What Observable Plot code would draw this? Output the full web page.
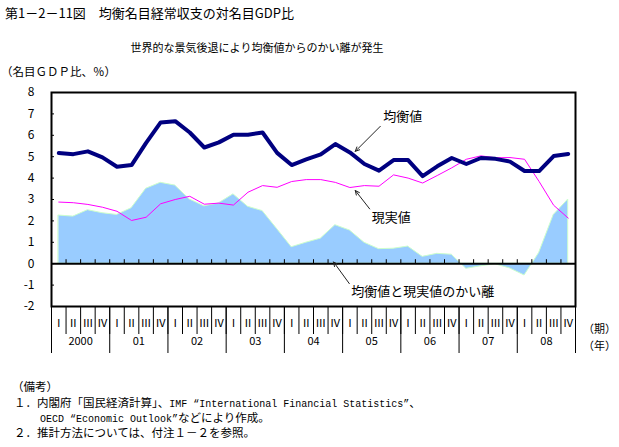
<!DOCTYPE html>
<html><head><meta charset="utf-8">
<script src="https://cdn.jsdelivr.net/npm/d3@7"></script>
<script src="https://cdn.jsdelivr.net/npm/@observablehq/plot@0.6"></script>
<style>
body{margin:0;background:#fff;}
#wrap{position:relative;width:619px;height:447px;overflow:hidden;font-family:"Noto Sans CJK JP",sans-serif;color:#000;background:#fff;}
.t{position:absolute;white-space:nowrap;line-height:1;}
.m{font-family:"Liberation Mono",monospace;font-size:10px;}
#chart{position:absolute;left:0;top:0;}
</style></head><body>
<div id="wrap">
<div id="chart"></div>
<div class="t" style="left:5px;top:6px;font-size:13px">第1－2－11図　均衡名目経常収支の対名目GDP比</div>
<div class="t" style="left:257px;top:42px;font-size:11px;transform:translateX(-50%)">世界的な景気後退により均衡値からのかい離が発生</div>
<div class="t" style="left:1px;top:66px;font-size:11.5px">（名目ＧＤＰ比、％）</div>
<div class="t" style="left:583px;top:323px;font-size:11px">（期）</div>
<div class="t" style="left:583px;top:340px;font-size:11px">（年）</div>
<div class="t" style="left:12px;top:381px;font-size:11.5px">（備考）</div>
<div class="t" style="left:14px;top:397px;font-size:11.5px">１．内閣府「国民経済計算」、<span class="m">IMF “International Financial Statistics”</span>、</div>
<div class="t" style="left:40px;top:412px;font-size:11.5px"><span class="m">OECD “Economic Outlook”</span>などにより作成。</div>
<div class="t" style="left:14px;top:427px;font-size:11.5px">２．推計方法については、付注１－２を参照。</div>
</div>
<script>
// ---- data ----
const years = ["2000","01","02","03","04","05","06","07","08"];
const quarterLabels = ["Ⅰ","Ⅱ","Ⅲ","Ⅳ"];
const yTicks = [-2,-1,0,1,2,3,4,5,6,7,8];
// 均衡値 (equilibrium), 2000 Q1 .. 2008 Q4
const equilibrium = [5.17,5.12,5.25,4.97, 4.53,4.61,5.65,6.60, 6.66,6.13,5.43,5.67, 6.03,6.03,6.13,5.18,
  4.61,4.87,5.11,5.59, 5.20,4.66,4.35,4.84, 4.84,4.09,4.55,4.94, 4.66,4.94,4.90,4.77, 4.33,4.33,5.03,5.13];
// 現実値 (actual)
const actual = [2.88,2.85,2.77,2.64, 2.45,2.02,2.17,2.80, 3.00,3.15,2.78,2.83, 2.74,3.34,3.65,3.57,
  3.84,3.93,3.93,3.80, 3.56,3.65,3.62,4.15, 4.00,3.77,4.12,4.48, 4.88,5.04,4.95,4.96, 4.88,3.84,2.73,2.13];
// 均衡値と現実値のかい離 (gap)
const gap = [2.25,2.20,2.50,2.36, 2.28,2.59,3.50,3.78, 3.65,3.00,2.68,2.82, 3.24,2.66,2.46,1.62,
  0.77,0.98,1.17,1.80, 1.55,0.98,0.68,0.70, 0.80,0.32,0.46,0.42, -0.24,-0.12,-0.03,-0.22, -0.55,0.50,2.27,3.00];
// annotations (label + arrow, in data units)
const labels = [
  {text:"均衡値", x:22.3, y:6.85},
  {text:"現実値", x:21.5, y:2.13},
  {text:"均衡値と現実値のかい離", x:20.1, y:-1.32}
];
const arrows = [
  {x1:22.09, y1:6.42, x2:20.37, y2:5.25},
  {x1:21.36, y1:2.56, x2:20.37, y2:3.42},
  {x1:19.96, y1:-0.93, x2:18.88, y2:0.08}
];

const n = equilibrium.length;
const idx = d3.range(n);
const qBounds = d3.range(n + 1).map(i => i - 0.5);
const yBounds = d3.range(years.length + 1).map(k => 4 * k - 0.5);
const yCenters = years.map((_, k) => 4 * k + 1.5);

const chart = Plot.plot({
  width: 619, height: 447,
  marginLeft: 51, marginRight: 44, marginTop: 92, marginBottom: 141,
  style: {fontFamily: '"Noto Sans CJK JP", sans-serif', fontSize: "12px", color: "black", background: "transparent", overflow: "visible"},
  x: {domain: [-0.5, n - 0.5]},
  y: {domain: [-2, 8]},
  marks: [
    Plot.areaY(gap, {x: (d, i) => i, y: d => d, fill: "#99ccff", stroke: "#ccffcc", strokeWidth: 1}),
    Plot.ruleY([0], {stroke: "black", strokeWidth: 2}),
    Plot.ruleX(qBounds.slice(1, -1), {x: d => d, y1: 0, y2: 0, insetTop: -4, stroke: "black"}),
    Plot.ruleY(yTicks.slice(1, -1), {y: d => d, x1: -0.5, x2: -0.5, insetRight: -3, stroke: "black"}),
    Plot.lineY(actual, {x: (d, i) => i, y: d => d, stroke: "#ff00ff", strokeWidth: 1}),
    Plot.lineY(equilibrium, {x: (d, i) => i, y: d => d, stroke: "#000080", strokeWidth: 4}),
    Plot.arrow(arrows, {x1: "x1", y1: "y1", x2: "x2", y2: "y2", stroke: "#222", strokeWidth: 1, headLength: 7, headAngle: 50}),
    Plot.text(labels, {x: "x", y: "y", text: "text", textAnchor: "start", fontSize: 13, fill: "black"}),
    Plot.frame({stroke: "black", strokeWidth: 2}),
    Plot.axisY(yTicks, {tickSize: 0, tickPadding: 17, fontSize: 12, tickFormat: d => String(d), label: null}),
    Plot.axisX(qBounds, {tickSize: 28, fill: "none", label: null}),
    Plot.axisX(yBounds, {tickSize: 47, fill: "none", label: null}),
    Plot.axisX(idx, {tickSize: 0, tickPadding: 13, fontSize: 11, tickFormat: i => quarterLabels[i % 4], label: null}),
    Plot.axisX(yCenters, {tickSize: 0, tickPadding: 31, fontSize: 11, tickFormat: (d, i) => years[i], label: null})
  ]
});
document.getElementById("chart").appendChild(chart);
</script>
</body></html>
